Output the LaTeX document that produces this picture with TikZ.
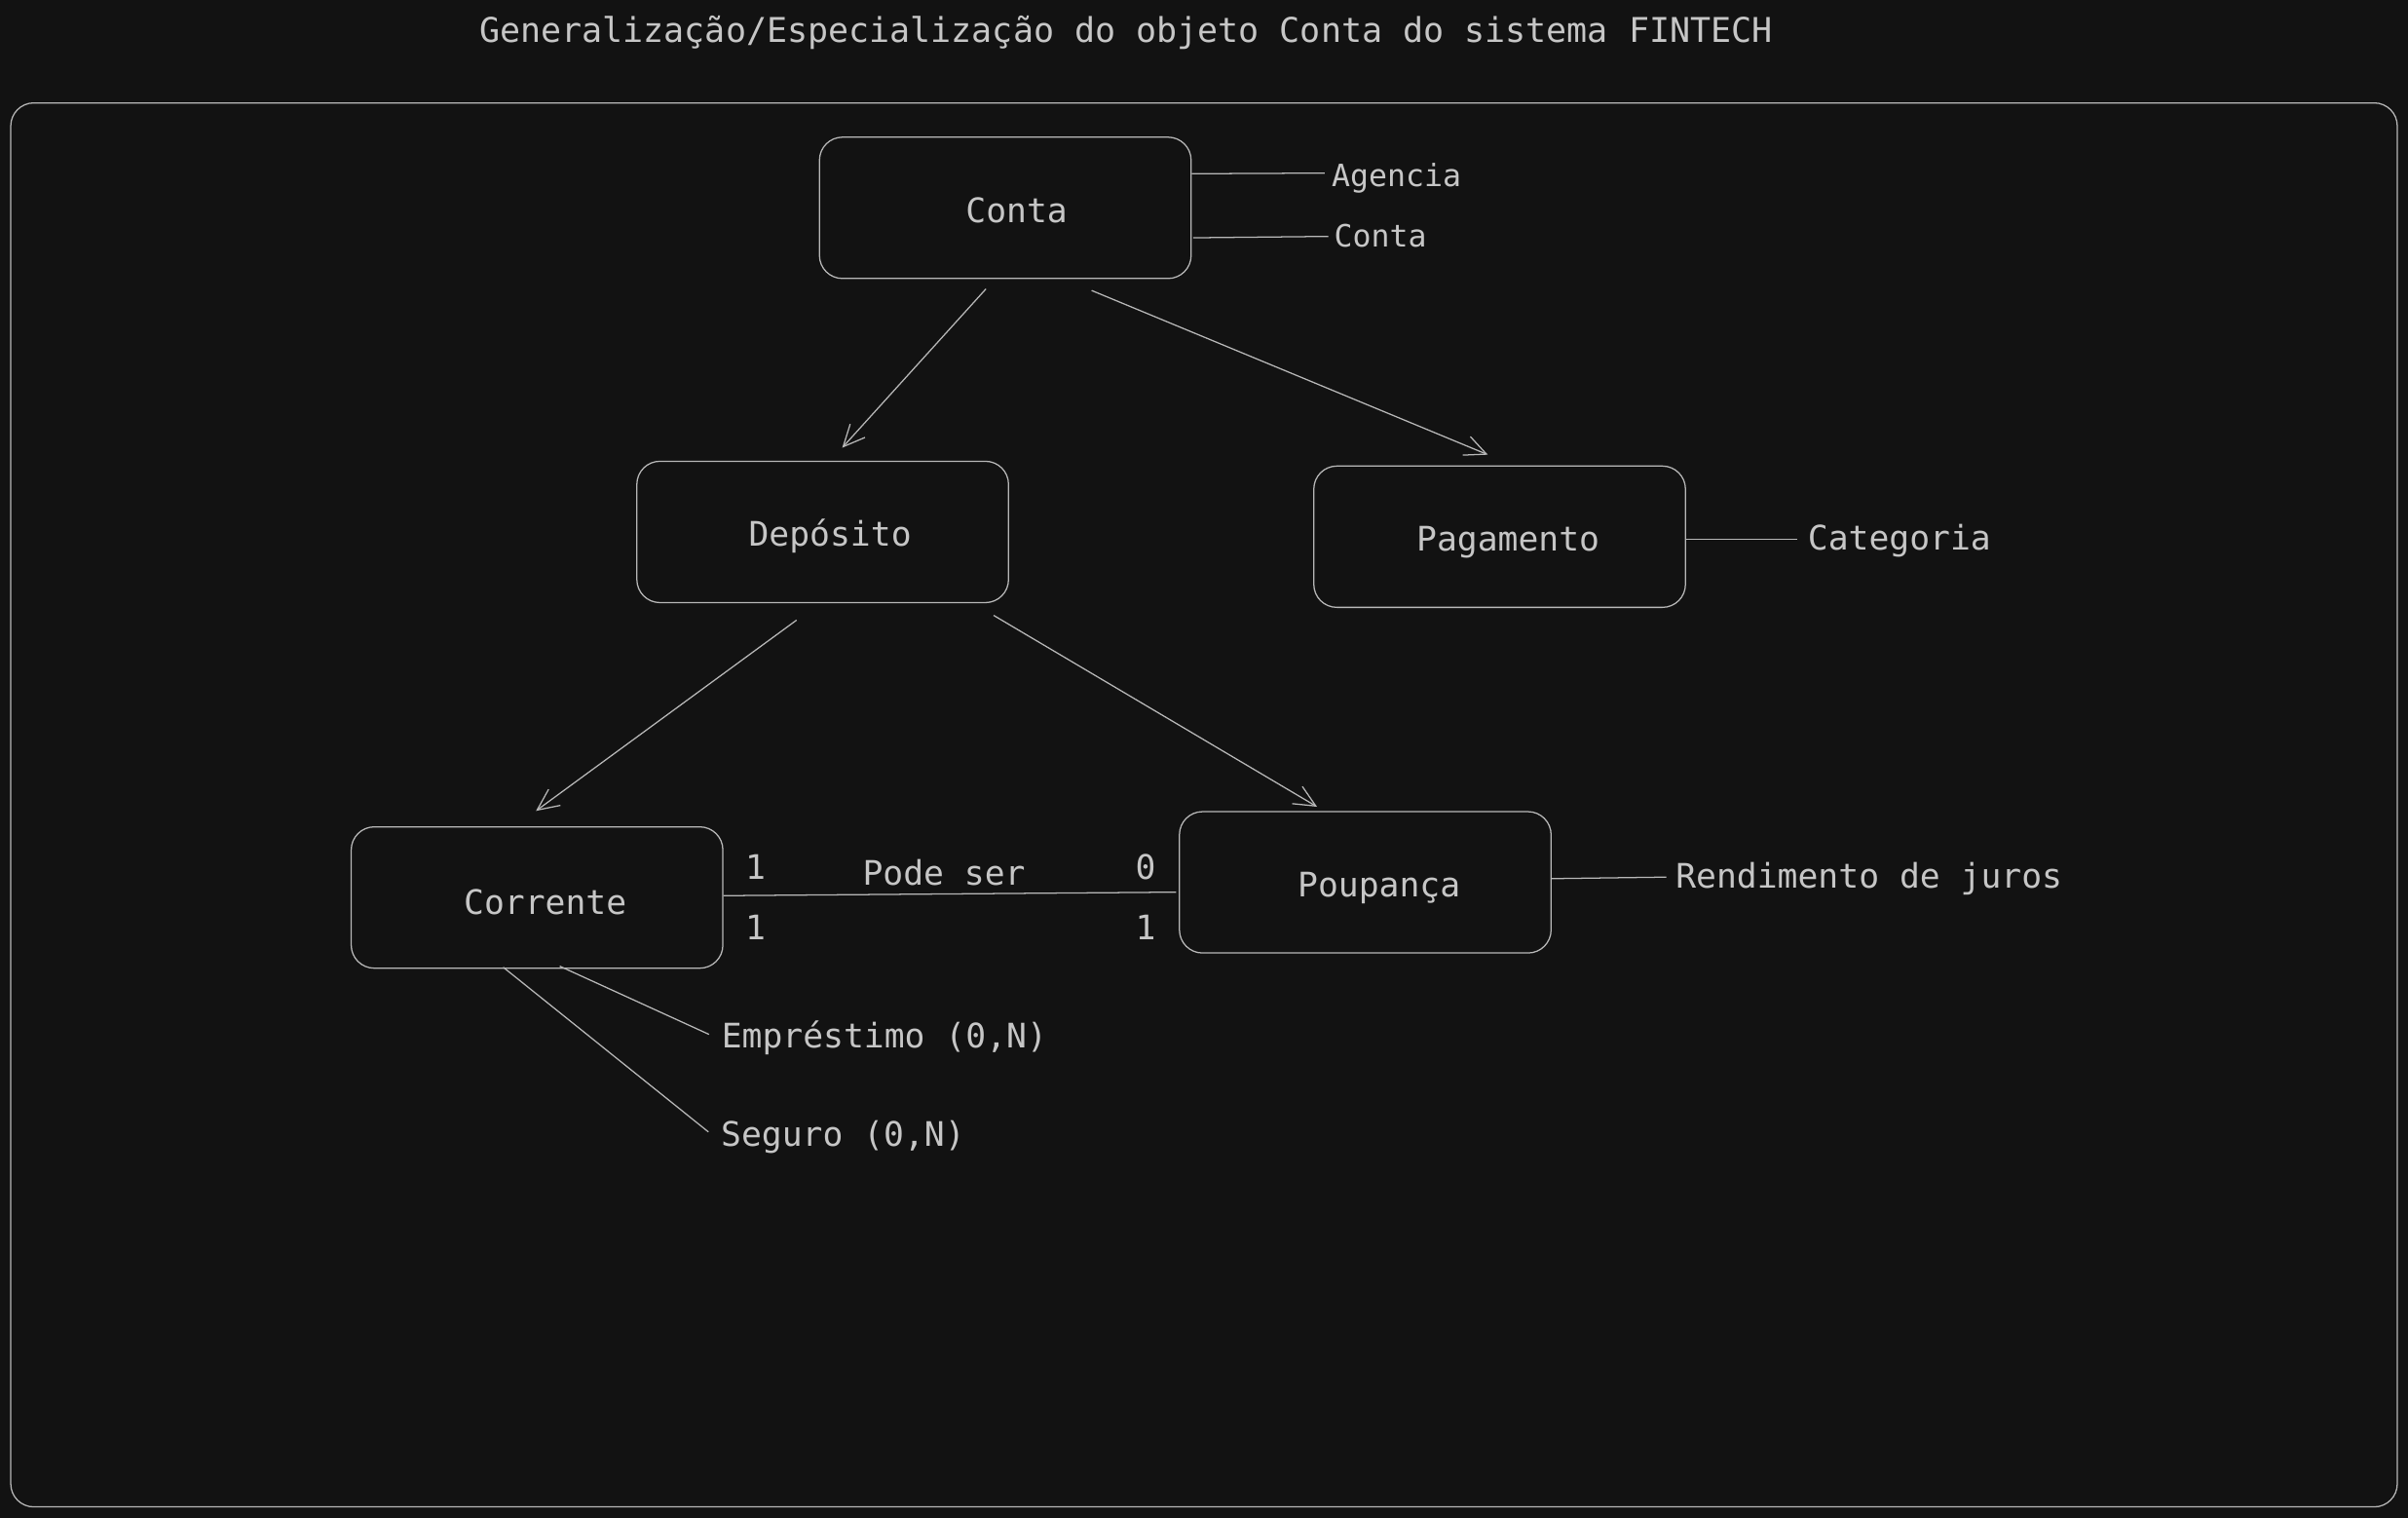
\documentclass[tikz,border=0pt]{standalone}
\usepackage{fontspec}
\newfontfamily\mono{DejaVu Sans Mono}
\usetikzlibrary{arrows.meta,calc}
\definecolor{bg}{HTML}{121212}
\definecolor{ink}{HTML}{C6C6C6}
\definecolor{edge}{HTML}{B8B8B8}
\begin{document}
\begin{tikzpicture}[x=1pt,y=-1pt,
  box/.style={draw=edge,line width=0.8pt,rounded corners=15pt,minimum width=242pt,minimum height=92pt,inner sep=0pt},
  txt/.style={text=ink,font=\mono\fontsize{22}{26}\selectfont,inner sep=0pt,anchor=base west},
  smalltxt/.style={txt,font=\mono\fontsize{20}{24}\selectfont},
  lbl/.style={text=ink,font=\mono\fontsize{22}{26}\selectfont,inner sep=0pt,anchor=base},
  conn/.style={draw=edge,line width=0.8pt},
  arr/.style={draw=edge,line width=0.8pt,-{Straight Barb[length=14pt,width=13pt,line width=0.8pt]}}]
\fill[bg] (0,0) rectangle (1568,988);
\useasboundingbox (0,0) rectangle (1568,988);
% frame
\draw[draw=edge,line width=0.8pt,rounded corners=15pt] (7,67) rectangle (1561,981);
% title
\node[txt,font=\mono\fontsize{22.2}{26}\selectfont] (title) at (312,27.5) {Generalização/Especialização do objeto Conta do sistema FINTECH};
% boxes
\node[box] (conta) at (654.6,135.3) {};
\node[lbl] (contal) at (662,145) {Conta};
\node[box] (deposito) at (535.7,346.3) {};
\node[lbl] (depositol) at (540.5,355.6) {Depósito};
\node[box] (pagamento) at (976.5,349.4) {};
\node[lbl] (pagamentol) at (982,358.8) {Pagamento};
\node[box] (corrente) at (349.7,584.3) {};
\node[lbl] (correntel) at (355,595.2) {Corrente};
\node[box] (poupanca) at (889,574.4) {};
\node[lbl] (poupancal) at (898,583.6) {Poupança};
% attributes
\node[smalltxt] (agencia) at (867,121.5) {Agencia};
\node[smalltxt] (contaattr) at (868.6,160.5) {Conta};
\node[txt] (categoria) at (1177,357.8) {Categoria};
\node[txt] (rend) at (1091,578) {Rendimento de juros};
\node[txt] (emp) at (469.7,682) {Empréstimo (0,N)};
\node[txt] (seg) at (469.3,746.4) {Seguro (0,N)};
% relation labels
\node[lbl] (podeser) at (614.7,576) {Pode ser};
\node[lbl] (m1) at (492,572.6) {1};
\node[lbl] (m2) at (492,612) {1};
\node[lbl] (m3) at (746,572.6) {0};
\node[lbl] (m4) at (746,612) {1};
% attribute lines
\draw[conn] ($(conta.east)+(0,-22.2)$) -- ($(agencia.base west)+(-4.5,-8.8)$);
\draw[conn] ($(conta.east)+(1,19.5)$) -- ($(contaattr.base west)+(-3.6,-6.6)$);
\draw[conn] ($(pagamento.east)+(0,1.6)$) -- ($(categoria.base west)+(-7,-6.8)$);
\draw[conn] ($(poupanca.east)+(0,-2.4)$) -- ($(rend.base west)+(-6,-7)$);
\draw[conn] ($(corrente.south)+(14.8,-1.7)$) -- ($(emp.base west)+(-8,-8.6)$);
\draw[conn] ($(corrente.south)+(-22,-1)$) -- ($(seg.base west)+(-8,-9.5)$);
% relationship line
\draw[conn] ($(corrente.east)+(0,-1.2)$) -- ($(poupanca.west)+(-1.7,6.4)$);
% arrows
\draw[arr] ($(conta.south)+(-12.6,6.4)$) -- ($(deposito.north)+(12.7,-8.4)$);
\draw[arr] ($(conta.south)+(56.2,7.4)$) -- ($(pagamento.north)+(-7.7,-7)$);
\draw[arr] ($(deposito.south)+(-17,11)$) -- ($(corrente.north)+(-0.7,-10)$);
\draw[arr] ($(deposito.south)+(111.3,7.9)$) -- ($(poupanca.north)+(-31.4,-2.8)$);
\end{tikzpicture}
\end{document}
